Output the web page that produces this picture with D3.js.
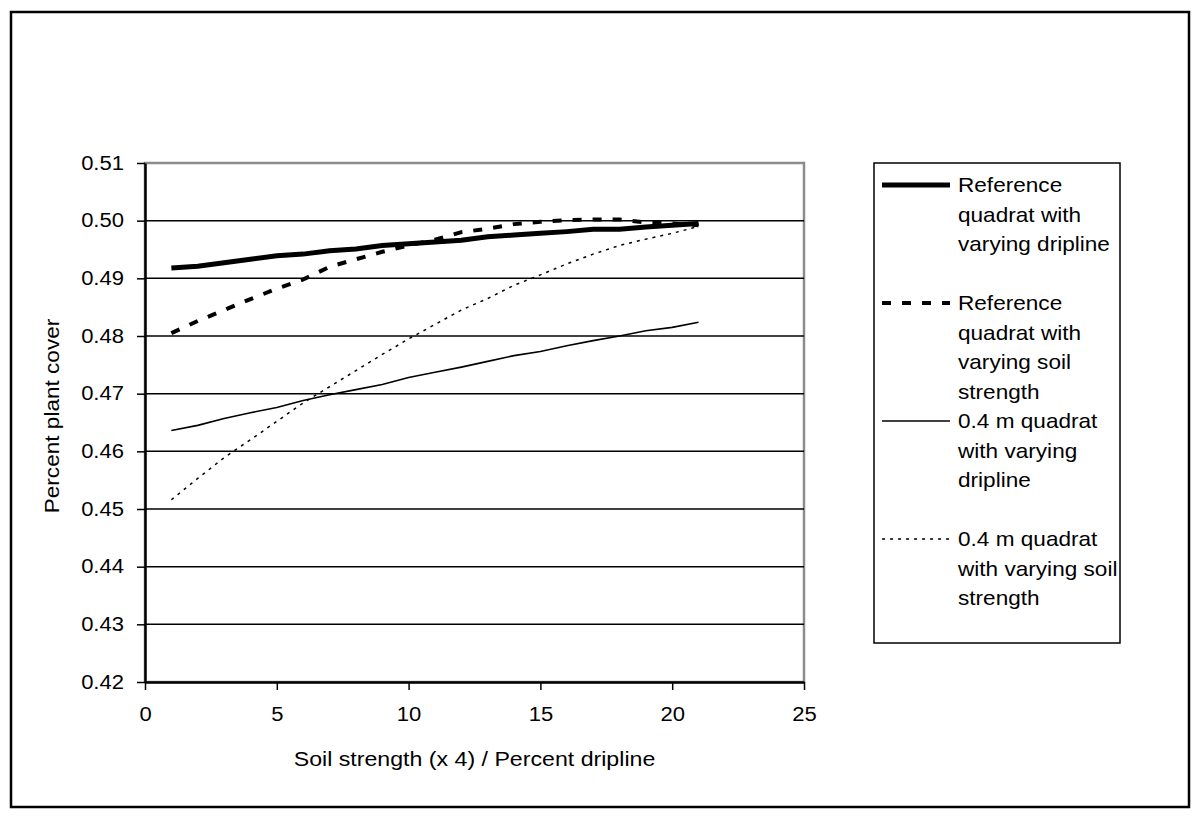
<html lang="en">
<head>
<meta charset="utf-8">
<title>Percent plant cover</title>
<style>
    body {
        margin: 0;
        background-color: white;
    }
    svg {
        background-color: white;
        font-family: "Liberation Sans", Arial, sans-serif;
    }
    .axis text {
        font-size: 19.5px;
        fill: black;
    }
    .grid line {
        stroke: black;
        stroke-width: 1.5;
    }
</style>
</head>
<body>
<script src="https://cdnjs.cloudflare.com/ajax/libs/d3/7.8.5/d3.min.js"></script>
<script>
    // values
    var xValues = [1, 2, 3, 4, 5, 6, 7, 8, 9, 10, 11, 12, 13, 14, 15, 16, 17, 18, 19, 20, 21];

    var refDripline = [0.4918, 0.4921, 0.4927, 0.4933, 0.4939, 0.4942, 0.4948, 0.4951, 0.4957, 0.4960, 0.4963,
                       0.4966, 0.4972, 0.4975, 0.4978, 0.4981, 0.4985, 0.4985, 0.4989, 0.4992, 0.4995];
    var refSoil     = [0.4805, 0.4826, 0.4845, 0.4864, 0.4882, 0.4898, 0.4920, 0.4933, 0.4946, 0.4957, 0.4967,
                       0.4980, 0.4986, 0.4994, 0.4998, 0.5001, 0.5002, 0.5002, 0.4997, 0.4995, 0.4992];
    var smallDripline = [0.4636, 0.4645, 0.4657, 0.4667, 0.4676, 0.4688, 0.4698, 0.4707, 0.4716, 0.4728, 0.4737,
                         0.4746, 0.4756, 0.4766, 0.4773, 0.4783, 0.4792, 0.4800, 0.4809, 0.4815, 0.4824];
    var smallSoil     = [0.4516, 0.4553, 0.4589, 0.4620, 0.4652, 0.4684, 0.4712, 0.4740, 0.4768, 0.4795, 0.4820,
                         0.4845, 0.4865, 0.4888, 0.4906, 0.4925, 0.4942, 0.4957, 0.4968, 0.4978, 0.4990];

    var legendLabels = [
        ["Reference", "quadrat with", "varying dripline"],
        ["Reference", "quadrat with", "varying soil", "strength"],
        ["0.4 m quadrat", "with varying", "dripline"],
        ["0.4 m quadrat", "with varying soil", "strength"]
    ];

    var xTicks = [0, 5, 10, 15, 20, 25];
    var yTicks = [0.42, 0.43, 0.44, 0.45, 0.46, 0.47, 0.48, 0.49, 0.50, 0.51];

    var xTitle = "Soil strength (x 4) / Percent dripline";
    var yTitle = "Percent plant cover";

    // line styles, same order as legendLabels
    var styles = [
        { width: 5, dash: null },
        { width: 4, dash: "9,11" },
        { width: 1.6, dash: null },
        { width: 1.5, dash: "3,5" }
    ];
    var seriesValues = [refDripline, refSoil, smallDripline, smallSoil];

    var stretch = 1.13; // the source figure's text is a bit wide

    var svg = d3.select("body")
                .append("svg")
                .attr("width", 1200)
                .attr("height", 820);

    // plot box ("top" is taken by window.top, so prefix them)
    var plotLeft = 145, plotRight = 804, plotTop = 163, plotBottom = 682;

    var xScale = d3.scaleLinear().domain([0, 25]).range([plotLeft, plotRight]);
    var yScale = d3.scaleLinear().domain([0.42, 0.51]).range([plotBottom, plotTop]);

    // outer chart frame
    svg.append("rect")
        .attr("x", 11).attr("y", 12)
        .attr("width", 1178).attr("height", 795)
        .attr("fill", "none")
        .attr("stroke", "black")
        .attr("stroke-width", 2.5);

    // plot area border (grey)
    svg.append("rect")
        .attr("x", plotLeft).attr("y", plotTop)
        .attr("width", plotRight - plotLeft).attr("height", plotBottom - plotTop)
        .attr("fill", "none")
        .attr("stroke", "#8c8c8c")
        .attr("stroke-width", 2.5);

    // horizontal gridlines
    svg.append("g")
        .attr("class", "grid")
        .selectAll("line")
        .data(yTicks.filter(function(d) { return d > 0.42 && d < 0.51; }))
        .enter()
        .append("line")
        .attr("x1", plotLeft).attr("x2", plotRight)
        .attr("y1", function(d) { return yScale(d); })
        .attr("y2", function(d) { return yScale(d); });

    var yAxis = d3.axisLeft(yScale)
                  .tickValues(yTicks)
                  .tickFormat(d3.format(".2f"))
                  .tickSize(8)
                  .tickSizeOuter(0)
                  .tickPadding(13);

    var xAxis = d3.axisBottom(xScale)
                  .tickValues(xTicks)
                  .tickFormat(d3.format("d"))
                  .tickSize(8)
                  .tickSizeOuter(0)
                  .tickPadding(17);

    var gy = svg.append("g")
                .attr("class", "y axis")
                .attr("transform", "translate(" + plotLeft + ",0)")
                .call(yAxis);

    var gx = svg.append("g")
                .attr("class", "x axis")
                .attr("transform", "translate(0," + plotBottom + ")")
                .call(xAxis);

    [gx, gy].forEach(function(g) {
        g.select(".domain").attr("stroke", "black").attr("stroke-width", 2.5);
        g.selectAll(".tick line").attr("stroke", "black").attr("stroke-width", 1.5);
        g.attr("font-family", null).attr("font-size", null);
    });

    gy.selectAll(".tick text")
        .attr("x", -21 / stretch)
        .attr("transform", "scale(" + stretch + ",1)");
    gx.selectAll(".tick text")
        .attr("transform", "scale(" + stretch + ",1)");

    // axis titles
    svg.append("text")
        .attr("transform", "translate(" + ((plotLeft + plotRight) / 2) + ",766) scale(" + stretch + ",1)")
        .attr("text-anchor", "middle")
        .attr("font-size", 20.5)
        .text(xTitle);

    svg.append("text")
        .attr("transform", "translate(59,416) rotate(-90) scale(" + stretch + ",1)")
        .attr("text-anchor", "middle")
        .attr("font-size", 20)
        .text(yTitle);

    // series lines
    var line = d3.line()
                 .x(function(d, i) { return xScale(xValues[i]); })
                 .y(function(d) { return yScale(d); });

    // draw thin ones first so the thick reference lines sit on top
    [3, 2, 1, 0].forEach(function(k) {
        svg.append("path")
            .datum(seriesValues[k])
            .attr("d", line)
            .attr("fill", "none")
            .attr("stroke", "black")
            .attr("stroke-width", styles[k].width)
            .attr("stroke-dasharray", styles[k].dash);
    });

    // legend
    var legendX = 874, legendY = 163, legendW = 246, legendH = 480;
    var lineStep = 29.5, firstBaseline = 192;

    svg.append("rect")
        .attr("x", legendX).attr("y", legendY)
        .attr("width", legendW).attr("height", legendH)
        .attr("fill", "white")
        .attr("stroke", "black")
        .attr("stroke-width", 1.5);

    legendLabels.forEach(function(lines, i) {
        var base = firstBaseline + i * 4 * lineStep;

        svg.append("line")
            .attr("x1", 882).attr("x2", 950)
            .attr("y1", base - 7).attr("y2", base - 7)
            .attr("stroke", "black")
            .attr("stroke-width", styles[i].width)
            .attr("stroke-dasharray", styles[i].dash);

        lines.forEach(function(t, j) {
            svg.append("text")
                .attr("transform", "translate(958," + (base + j * lineStep) + ") scale(" + stretch + ",1)")
                .attr("font-size", 20)
                .text(t);
        });
    });
</script>
</body>
</html>
